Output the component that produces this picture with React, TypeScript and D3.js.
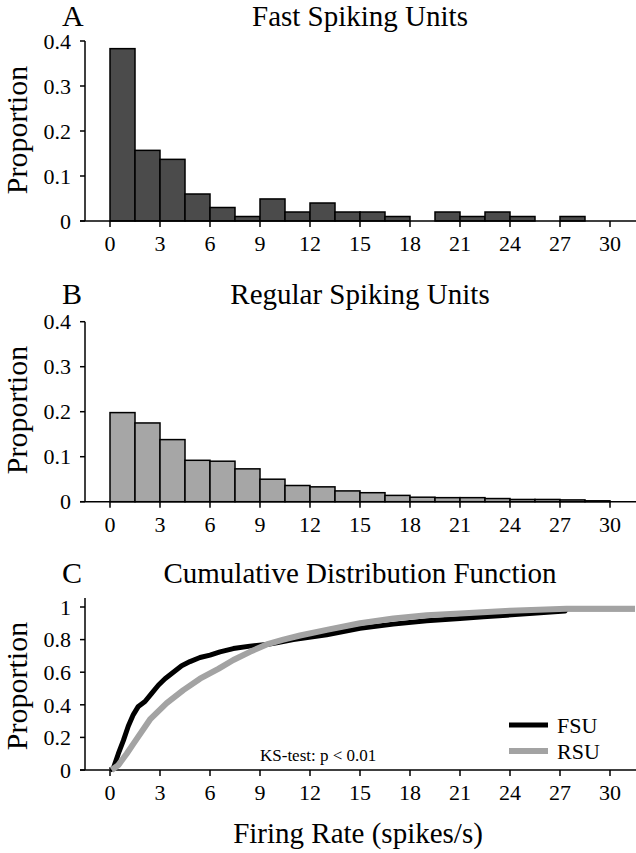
import React, { useEffect, useRef } from "react";
import * as d3 from "d3";

// histogram bins (spikes/s), width 1.5
const binStarts = [0, 1.5, 3, 4.5, 6, 7.5, 9, 10.5, 12, 13.5, 15, 16.5, 18, 19.5, 21, 22.5, 24, 25.5, 27, 28.5];
const binWidth = 1.5;
const fsuHist = [0.383, 0.157, 0.137, 0.06, 0.03, 0.01, 0.049, 0.02, 0.04, 0.02, 0.02, 0.01, 0, 0.02, 0.01, 0.02, 0.01, 0, 0.01, 0];
const rsuHist = [0.198, 0.175, 0.138, 0.092, 0.09, 0.073, 0.05, 0.036, 0.033, 0.024, 0.02, 0.014, 0.01, 0.009, 0.009, 0.007, 0.005, 0.005, 0.004, 0.002];

// cumulative distributions
const fsuRate = [0, 0.2, 0.5, 0.8, 1.1, 1.4, 1.7, 2.1, 2.5, 2.9, 3.3, 3.8, 4.3, 4.8, 5.4, 6.0, 6.6, 7.4, 8.4, 9.4, 10, 11, 13, 15, 17, 19, 21, 22.4, 23.8, 25.6, 27.3, 27.4, 31.5];
const fsuCdf = [0, 0.01, 0.1, 0.18, 0.27, 0.34, 0.39, 0.42, 0.47, 0.52, 0.56, 0.6, 0.64, 0.665, 0.69, 0.705, 0.725, 0.745, 0.76, 0.77, 0.78, 0.8, 0.83, 0.87, 0.895, 0.915, 0.93, 0.94, 0.95, 0.963, 0.975, 0.99, 0.99];
const rsuRate = [0.1, 0.5, 1.0, 1.4, 2.4, 3.4, 4.4, 5.4, 6.5, 7.4, 8.4, 9.4, 10.4, 11.4, 13, 15, 17, 19, 21, 24, 27.4, 31.5];
const rsuCdf = [0, 0.03, 0.1, 0.16, 0.31, 0.41, 0.49, 0.56, 0.62, 0.675, 0.725, 0.77, 0.8, 0.825, 0.86, 0.9, 0.93, 0.95, 0.96, 0.977, 0.99, 0.99];

const xTicks = [0, 3, 6, 9, 12, 15, 18, 21, 24, 27, 30];
const histTicks = [0, 0.1, 0.2, 0.3, 0.4];
const cdfTicks = [0, 0.2, 0.4, 0.6, 0.8, 1];

const FONT = "'Liberation Serif', serif";

function App() {
  const canvas = useRef<SVGSVGElement>(null);

  useEffect(() => {
    document.body.style.margin = "0";
    const svg = d3.select(canvas.current);
    svg.selectAll("*").remove();

    const x = d3.scaleLinear().domain([0, 30]).range([110, 610]);
    const axisLeftX = 85;

    const drawAxes = (y, ticks, fmt, yTop, labelY) => {
      const y0 = y(0);
      svg.append("line")
        .attr("x1", 80).attr("x2", 636).attr("y1", y0).attr("y2", y0)
        .attr("stroke", "black").attr("stroke-width", 1.5);
      svg.append("line")
        .attr("x1", axisLeftX).attr("x2", axisLeftX).attr("y1", y0).attr("y2", yTop)
        .attr("stroke", "black").attr("stroke-width", 1.5);
      ticks.forEach((t) => {
        svg.append("line")
          .attr("x1", 80).attr("x2", axisLeftX).attr("y1", y(t)).attr("y2", y(t))
          .attr("stroke", "black").attr("stroke-width", 1.5);
        svg.append("text")
          .attr("x", 71).attr("y", y(t)).attr("dy", "0.35em")
          .attr("text-anchor", "end")
          .style("font-family", FONT).style("font-size", "22px")
          .text(fmt(t));
      });
      xTicks.forEach((t) => {
        svg.append("line")
          .attr("x1", x(t)).attr("x2", x(t)).attr("y1", y0).attr("y2", y0 + 6)
          .attr("stroke", "black").attr("stroke-width", 1.5);
        svg.append("text")
          .attr("x", x(t)).attr("y", y0 + 30)
          .attr("text-anchor", "middle")
          .style("font-family", FONT).style("font-size", "22px")
          .text(t);
      });
      svg.append("text")
        .attr("transform", `translate(27,${labelY}) rotate(-90)`)
        .attr("text-anchor", "middle")
        .style("font-family", FONT).style("font-size", "30px")
        .text("Proportion");
    };

    const drawTitle = (letter, title, baseY) => {
      svg.append("text")
        .attr("x", 62).attr("y", baseY)
        .style("font-family", FONT).style("font-size", "30px")
        .text(letter);
      svg.append("text")
        .attr("x", 360).attr("y", baseY)
        .attr("text-anchor", "middle")
        .style("font-family", FONT).style("font-size", "29px")
        .text(title);
    };

    const drawHist = (vals, y, fill) => {
      svg.append("g")
        .selectAll("rect")
        .data(vals.map((v, i) => ({ s: binStarts[i], v })).filter((d) => d.v > 0))
        .enter()
        .append("rect")
        .attr("x", (d) => x(d.s))
        .attr("width", (d) => x(d.s + binWidth) - x(d.s))
        .attr("y", (d) => y(d.v))
        .attr("height", (d) => y(0) - y(d.v))
        .attr("fill", fill)
        .attr("stroke", "black")
        .attr("stroke-width", 1.5);
    };

    const fmtHist = (t) => (t === 0 ? "0" : t.toFixed(1));
    const fmtCdf = (t) => (t === 0 || t === 1 ? String(t) : t.toFixed(1));

    // Panel A
    const yA = d3.scaleLinear().domain([0, 0.4]).range([221, 41]);
    drawTitle("A", "Fast Spiking Units", 26);
    drawHist(fsuHist, yA, "#4b4b4b");
    drawAxes(yA, histTicks, fmtHist, yA(0.4), 130);

    // Panel B
    const yB = d3.scaleLinear().domain([0, 0.4]).range([501.7, 321.7]);
    drawTitle("B", "Regular Spiking Units", 304);
    drawHist(rsuHist, yB, "#a6a6a6");
    drawAxes(yB, histTicks, fmtHist, yB(0.4), 410);

    // Panel C
    const yC = d3.scaleLinear().domain([0, 1]).range([770, 607]);
    drawTitle("C", "Cumulative Distribution Function", 583);
    drawAxes(yC, cdfTicks, fmtCdf, 598, 686);

    const line = d3.line().x((d) => x(d[0])).y((d) => yC(d[1]));
    svg.append("path")
      .attr("d", line(fsuRate.map((r, i) => [r, fsuCdf[i]])))
      .attr("fill", "none").attr("stroke", "black").attr("stroke-width", 5)
      .attr("stroke-linejoin", "round");
    svg.append("path")
      .attr("d", line(rsuRate.map((r, i) => [r, rsuCdf[i]])))
      .attr("fill", "none").attr("stroke", "#a3a3a3").attr("stroke-width", 6)
      .attr("stroke-linejoin", "round");

    // legend
    [["FSU", "black", 5, 725], ["RSU", "#a3a3a3", 6, 751]].forEach(([name, col, w, ly]) => {
      svg.append("line")
        .attr("x1", 509).attr("x2", 548).attr("y1", ly).attr("y2", ly)
        .attr("stroke", col).attr("stroke-width", w);
      svg.append("text")
        .attr("x", 557).attr("y", ly + 8)
        .style("font-family", FONT).style("font-size", "22px")
        .text(name);
    });

    svg.append("text")
      .attr("x", 260).attr("y", 761)
      .style("font-family", FONT).style("font-size", "17px")
      .text("KS-test: p < 0.01");

    svg.append("text")
      .attr("x", 358).attr("y", 843)
      .attr("text-anchor", "middle")
      .style("font-family", FONT).style("font-size", "29px")
      .text("Firing Rate (spikes/s)");
  }, []);

  return <svg ref={canvas} width={636} height={853} style={{ display: "block" }}></svg>;
}

export default App;
